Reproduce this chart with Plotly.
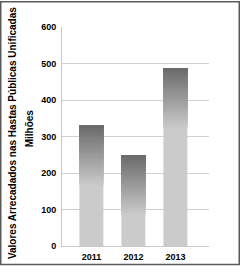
import plotly.graph_objects as go

years = ["2011", "2012", "2013"]
values = [330, 249, 487]
y_ticks = [0, 100, 200, 300, 400, 500, 600]
title_line1 = "Valores Arrecadados nas Hastas Públicas Unificadas"
title_line2 = "Milhões"

W, H = 240, 274
L, R, T, B = 62, 31, 27, 20
pw, ph = W - L - R, H - T - B

dark = (0x6a, 0x6a, 0x6a)
light = (0xcb, 0xcb, 0xcb)
grad = 165  # value span of the gradient at the top of each bar
N = 40
BW = 0.57

fig = go.Figure()
# light lower part
fig.add_trace(go.Bar(x=years, y=values,
                     marker=dict(color="rgb(%d,%d,%d)" % light, line=dict(width=0)),
                     width=BW, hoverinfo="skip"))
for k in range(N):
    t = (k + 0.5) / N  # 0 bottom -> 1 top
    c = tuple(int(round(light[i] + (dark[i] - light[i]) * t)) for i in range(3))
    bases = [max(v - grad, 0) + k * min(grad, v) / N for v in values]
    heights = [v - b for v, b in zip(values, bases)]
    fig.add_trace(go.Bar(x=years, y=heights, base=bases,
                         marker=dict(color="rgb(%d,%d,%d)" % c, line=dict(width=0)),
                         width=BW, hoverinfo="skip"))

fig.update_layout(
    width=W, height=H, barmode="overlay", showlegend=False,
    margin=dict(l=L, r=R, t=T, b=B),
    paper_bgcolor="white", plot_bgcolor="white",
    font=dict(family="Liberation Sans, Arial", color="#000000"),
    xaxis=dict(type="category", range=[-0.7, 2.8], showgrid=False, showline=True,
               linecolor="#c8c8c8", linewidth=1,
               tickfont=dict(size=9, family="Liberation Sans", color="#000"),
               ticks="", ticklabelstandoff=2),
    yaxis=dict(range=[0, 600], tickvals=y_ticks, showgrid=True, gridcolor="#d0d0d0",
               gridwidth=1, showline=True, linecolor="#c8c8c8", linewidth=1,
               zeroline=False, ticks="",
               tickfont=dict(size=9, family="Liberation Sans", color="#000"),
               ticklabelstandoff=3),
)
fig.update_xaxes(ticktext=["<b>%s</b>" % y for y in years], tickvals=years)
fig.update_yaxes(ticktext=["<b>%d</b>" % v for v in y_ticks])

fig.add_annotation(text="<b>%s</b>" % title_line1, textangle=-90,
                   xref="paper", yref="paper", x=(12 - L) / pw, y=(H - B - 137) / ph,
                   showarrow=False, font=dict(size=10, family="Liberation Sans", color="#000"),
                   xanchor="center", yanchor="middle")
fig.add_annotation(text="<b>%s</b>" % title_line2, textangle=-90,
                   xref="paper", yref="paper", x=(29 - L) / pw, y=(H - B - 132) / ph,
                   showarrow=False, font=dict(size=10, family="Liberation Sans", color="#000"),
                   xanchor="center", yanchor="middle")
fig.add_shape(type="rect", xref="paper", yref="paper",
              x0=(-L + 0.75) / pw, x1=(pw + R - 0.75) / pw,
              y0=(-B + 0.75) / ph, y1=(ph + T - 0.75) / ph,
              line=dict(color="#5a5a5a", width=1.5), fillcolor="rgba(0,0,0,0)", layer="above")

fig.write_html("out.html")
